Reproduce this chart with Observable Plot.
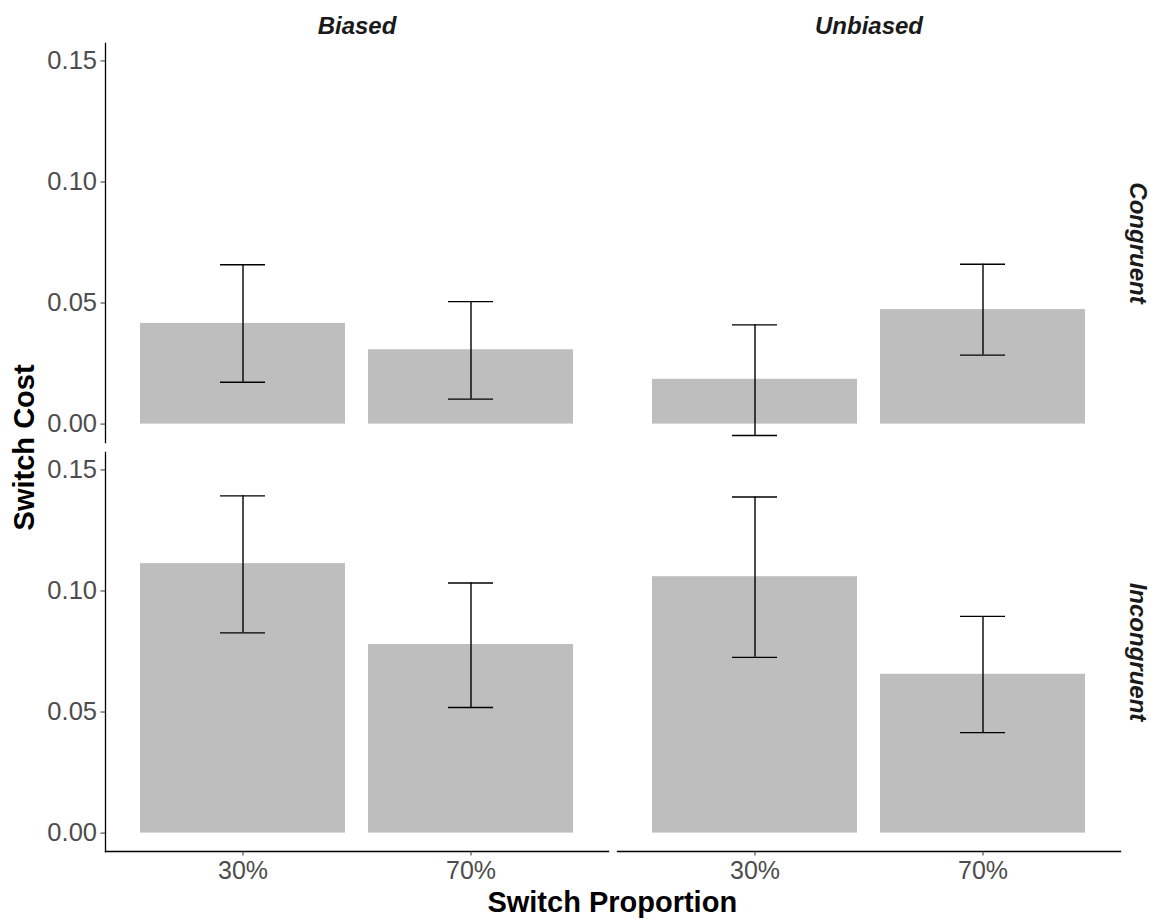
<!DOCTYPE html>
<html>
<head>
<meta charset="utf-8">
<script src="https://cdn.jsdelivr.net/npm/d3@7"></script>
<script src="https://cdn.jsdelivr.net/npm/@observablehq/plot@0.6"></script>
<style>
  html, body { margin: 0; padding: 0; background: #fff; }
  #chart svg { display: block; }
</style>
</head>
<body>
<div id="chart"></div>
<script>
// Facet levels and category order
const biasLevels = ["Biased", "Unbiased"];
const congruencyLevels = ["Congruent", "Incongruent"];
const proportionLevels = ["30%", "70%"];
const yTicks = [0, 0.05, 0.10, 0.15];

// One entry per bar
const biasCol       = ["Biased", "Biased", "Unbiased", "Unbiased", "Biased", "Biased", "Unbiased", "Unbiased"];
const congruencyCol = ["Congruent", "Congruent", "Congruent", "Congruent", "Incongruent", "Incongruent", "Incongruent", "Incongruent"];
const proportionCol = ["30%", "70%", "30%", "70%", "30%", "70%", "30%", "70%"];
const switchCost    = [0.0416, 0.0307, 0.0185, 0.0473, 0.1113, 0.0779, 0.1059, 0.0656];
const ciLow         = [0.0173, 0.0103, -0.0047, 0.0285, 0.0827, 0.0519, 0.0726, 0.0415];
const ciHigh        = [0.0658, 0.0506, 0.0410, 0.0660, 0.1393, 0.1033, 0.1388, 0.0895];

const rows = switchCost.map((v, i) => ({
  bias: biasCol[i],
  congruency: congruencyCol[i],
  proportion: proportionCol[i],
  cost: v,
  lo: ciLow[i],
  hi: ciHigh[i]
}));

const font = "'Liberation Sans', Arial, Helvetica, sans-serif";
const W = 1151, H = 919;
const mTop = 42.5, mRight = 30.5, mBottom = 66.7, mLeft = 104;
const capInset = 80; // error-bar caps span ~0.2 of a category step

const facet = {fx: "bias", fy: "congruency", x: "proportion"};

const chart = Plot.plot({
  width: W,
  height: H,
  marginTop: mTop,
  marginRight: mRight,
  marginBottom: mBottom,
  marginLeft: mLeft,
  style: {fontFamily: font, background: "#fff", overflow: "visible"},
  fx: {domain: biasLevels, paddingInner: 0.0176, paddingOuter: 0, axis: null},
  fy: {domain: congruencyLevels, paddingInner: 0.0244, paddingOuter: 0, axis: null},
  x: {domain: proportionLevels, paddingInner: 0.1, paddingOuter: 0.15, align: 0.5},
  y: {domain: [-0.0076, 0.1572]},
  marks: [
    Plot.barY(rows, {...facet, y: "cost", fill: "#bebebe"}),
    Plot.ruleX(rows, {...facet, y1: "lo", y2: "hi", stroke: "#000", strokeWidth: 1.4}),
    Plot.tickY(rows, {...facet, y: "lo", stroke: "#000", strokeWidth: 1.4, insetLeft: capInset, insetRight: capInset}),
    Plot.tickY(rows, {...facet, y: "hi", stroke: "#000", strokeWidth: 1.4, insetLeft: capInset, insetRight: capInset}),
    Plot.frame({anchor: "left", facetAnchor: "left", stroke: "#000", strokeWidth: 1.3}),
    Plot.frame({anchor: "bottom", facetAnchor: "bottom", stroke: "#000", strokeWidth: 1.3}),
    Plot.axisY({
      facetAnchor: "left",
      ticks: yTicks,
      tickFormat: d3.format(".2f"),
      tickSize: 4.5,
      tickPadding: 4,
      fontSize: 25.5,
      fill: "#4d4d4d",
      stroke: "#333",
      label: null
    }),
    Plot.axisX({
      facetAnchor: "bottom",
      tickSize: 4.5,
      tickPadding: 5,
      fontSize: 25,
      fill: "#4d4d4d",
      stroke: "#333",
      label: null
    }),
    // column strip labels
    Plot.text(biasLevels, {
      fx: d => d,
      fy: () => "Congruent",
      text: d => d,
      frameAnchor: "top",
      dy: -17.5,
      lineAnchor: "middle",
      textAnchor: "middle",
      fontSize: 24,
      fontWeight: "bold",
      fontStyle: "italic",
      fill: "#1a1a1a"
    }),
    // row strip labels
    Plot.text(congruencyLevels, {
      fx: () => "Unbiased",
      fy: d => d,
      text: d => d,
      frameAnchor: "right",
      dx: 17.5,
      rotate: 90,
      lineAnchor: "middle",
      textAnchor: "middle",
      fontSize: 24,
      fontWeight: "bold",
      fontStyle: "italic",
      fill: "#1a1a1a"
    })
  ]
});

// axis titles spanning all panels
const svg = d3.select(chart);
svg.append("text")
  .attr("x", (mLeft + (W - mRight)) / 2)
  .attr("y", 902)
  .attr("dy", "0.35em")
  .attr("text-anchor", "middle")
  .attr("font-family", font)
  .attr("font-size", 29)
  .attr("font-weight", "bold")
  .attr("fill", "#000")
  .text("Switch Proportion");

svg.append("text")
  .attr("transform", `translate(24,${(mTop + (H - mBottom)) / 2}) rotate(-90)`)
  .attr("dy", "0.35em")
  .attr("text-anchor", "middle")
  .attr("font-family", font)
  .attr("font-size", 29)
  .attr("font-weight", "bold")
  .attr("fill", "#000")
  .text("Switch Cost");

document.getElementById("chart").appendChild(chart);
</script>
</body>
</html>
